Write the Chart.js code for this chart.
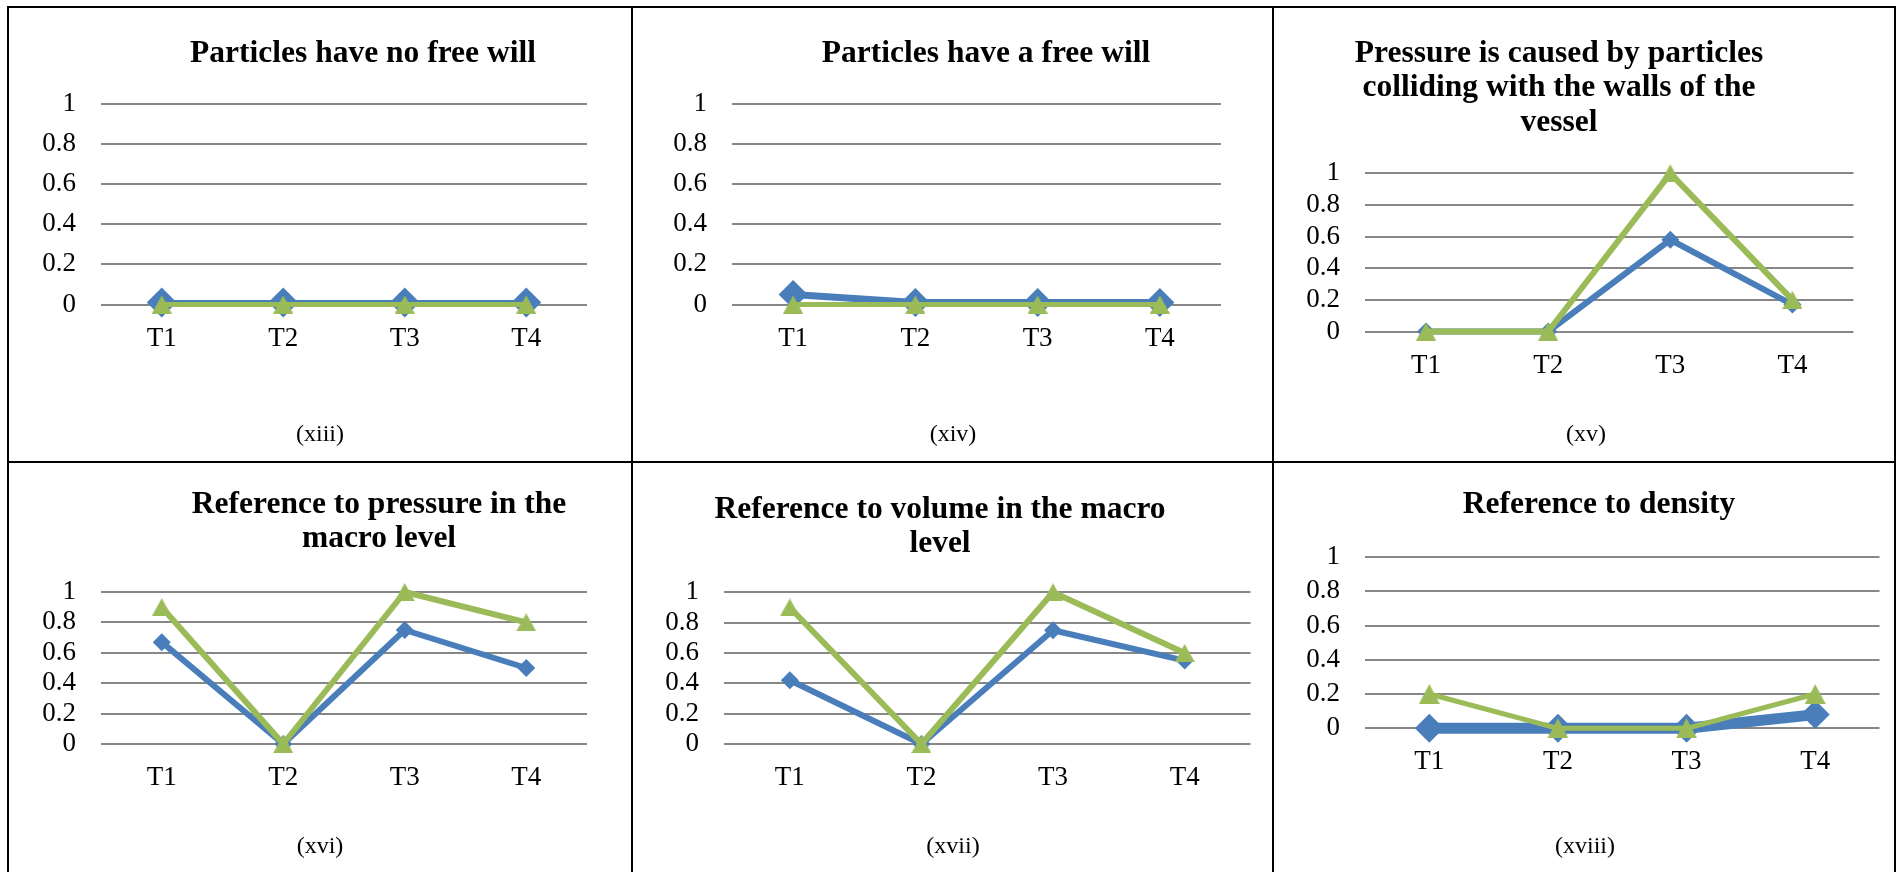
<!DOCTYPE html>
<html>
<head>
<meta charset="utf-8">
<script src="https://cdn.jsdelivr.net/npm/chart.js@4.4.0/dist/chart.umd.min.js"></script>
<style>
  html, body { margin: 0; padding: 0; background: #fff; }
  body { width: 1898px; height: 872px; position: relative; overflow: hidden; }
  .cell { position: absolute; }
  .rule { position: absolute; background: #000; }
</style>
</head>
<body>
<script>
// shared axes
const categories = ['T1', 'T2', 'T3', 'T4'];
const yTickValues = [0, 0.2, 0.4, 0.6, 0.8, 1];
const yTickLabels = ['0', '0.2', '0.4', '0.6', '0.8', '1'];

// values per panel (blue = diamonds, green = triangles)
const noFreeWillBlue = [0.01, 0.01, 0.01, 0.01];
const noFreeWillGreen = [0, 0, 0, 0];
const freeWillBlue = [0.05, 0.01, 0.01, 0.01];
const freeWillGreen = [0, 0, 0, 0];
const collidingBlue = [0, 0, 0.58, 0.17];
const collidingGreen = [0, 0, 1, 0.2];
const pressureBlue = [0.67, 0, 0.75, 0.5];
const pressureGreen = [0.9, 0, 1, 0.8];
const volumeBlue = [0.42, 0, 0.75, 0.55];
const volumeGreen = [0.9, 0, 1, 0.6];
const densityBlue = [0, 0, 0, 0.08];
const densityGreen = [0.2, 0, 0, 0.2];

const BLUE = '#4a7ebb';
const GREEN = '#9bbb59';
const GRID = '#878787';
const FONT = '"Liberation Serif", "Times New Roman", serif';

Chart.defaults.font.family = FONT;
Chart.defaults.color = '#000';

// table rules
[
  [7, 6, 1889, 2], [7, 461, 1889, 2],
  [7, 6, 2, 866], [631, 6, 2, 866], [1272, 6, 2, 866], [1894, 6, 2, 866]
].forEach(([x, y, w, h]) => {
  const d = document.createElement('div');
  d.className = 'rule';
  d.style.cssText = `left:${x}px;top:${y}px;width:${w}px;height:${h}px`;
  document.body.appendChild(d);
});

function triangleMarker(w, h, color) {
  const c = document.createElement('canvas');
  c.width = w; c.height = h;
  const g = c.getContext('2d');
  g.fillStyle = color;
  g.beginPath();
  g.moveTo(w / 2, 0);
  g.lineTo(w, h);
  g.lineTo(0, h);
  g.closePath();
  g.fill();
  return c;
}

// draws the chart title and the table caption
const panelText = {
  id: 'panelText',
  afterDraw(chart, args, opts) {
    const ctx = chart.ctx;
    ctx.save();
    ctx.fillStyle = '#000';
    ctx.textAlign = 'center';
    ctx.textBaseline = 'alphabetic';
    ctx.font = `bold 31.5px ${FONT}`;
    opts.title.forEach((line, i) => ctx.fillText(line, opts.titleX, opts.titleY[i]));
    ctx.font = `24px ${FONT}`;
    ctx.fillText(opts.caption, opts.capX, opts.capY);
    ctx.restore();
  }
};

const panels = [
  { title: ['Particles have no free will'], caption: '(xiii)', blue: noFreeWillBlue, green: noFreeWillGreen,
    cell: { x: 9, y: 8, w: 622, h: 453 }, plot: { l: 101, r: 587, t: 104, b: 304.5 },
    titleX: 363, titleY: [62], capX: 320, capY: 441, diamond: 15, tri: [20, 18], blueW: 5, greenW: 5, labelGap: 18 },
  { title: ['Particles have a free will'], caption: '(xiv)', blue: freeWillBlue, green: freeWillGreen,
    cell: { x: 633, y: 8, w: 639, h: 453 }, plot: { l: 732, r: 1221, t: 104, b: 304.5 },
    titleX: 986, titleY: [62], capX: 953, capY: 441, diamond: 14.5, tri: [20, 18], blueW: 7, greenW: 5, labelGap: 18 },
  { title: ['Pressure is caused by particles', 'colliding with the walls of the', 'vessel'], caption: '(xv)',
    blue: collidingBlue, green: collidingGreen,
    cell: { x: 1274, y: 8, w: 620, h: 453 }, plot: { l: 1365, r: 1853.5, t: 173.3, b: 331.5 },
    titleX: 1559, titleY: [61.5, 96, 130.5], capX: 1586, capY: 441, diamond: 9, tri: [20, 18], blueW: 6, greenW: 6, labelGap: 18 },
  { title: ['Reference to pressure in the', 'macro level'], caption: '(xvi)', blue: pressureBlue, green: pressureGreen,
    cell: { x: 9, y: 463, w: 622, h: 409 }, plot: { l: 101, r: 587, t: 592, b: 744 },
    titleX: 379, titleY: [512.5, 547], capX: 320, capY: 853, diamond: 9, tri: [20, 18], blueW: 6, greenW: 6, labelGap: 18 },
  { title: ['Reference to volume in the macro', 'level'], caption: '(xvii)', blue: volumeBlue, green: volumeGreen,
    cell: { x: 633, y: 463, w: 639, h: 409 }, plot: { l: 724, r: 1250.5, t: 592.3, b: 744 },
    titleX: 940, titleY: [517.5, 551.5], capX: 953, capY: 853, diamond: 9, tri: [20, 18], blueW: 6, greenW: 6, labelGap: 18 },
  { title: ['Reference to density'], caption: '(xviii)', blue: densityBlue, green: densityGreen,
    cell: { x: 1274, y: 463, w: 620, h: 409 }, plot: { l: 1365, r: 1881.5, t: 557, b: 728.3 },
    titleX: 1599, titleY: [512.5], capX: 1585, capY: 853, diamond: 14.5, tri: [21, 20], blueW: 11, greenW: 5, labelGap: 17.5 }
];

panels.forEach(p => {
  const wrap = document.createElement('div');
  wrap.className = 'cell';
  wrap.style.cssText = `left:${p.cell.x}px;top:${p.cell.y}px;width:${p.cell.w}px;height:${p.cell.h}px`;
  const canvas = document.createElement('canvas');
  wrap.appendChild(canvas);
  document.body.appendChild(wrap);

  const xAxisH = 60;
  const yAxisW = p.plot.l - p.cell.x;

  new Chart(canvas, {
    type: 'line',
    data: {
      labels: categories,
      datasets: [
        {
          label: 'Series 1',
          data: p.blue,
          order: 1,
          borderColor: BLUE,
          backgroundColor: BLUE,
          borderWidth: p.blueW,
          borderJoinStyle: 'round',
          pointStyle: 'rectRot',
          pointRadius: p.diamond,
          pointBorderWidth: 0,
          pointBackgroundColor: BLUE,
          clip: false
        },
        {
          label: 'Series 2',
          data: p.green,
          order: 0,
          borderColor: GREEN,
          backgroundColor: GREEN,
          borderWidth: p.greenW,
          borderJoinStyle: 'round',
          pointStyle: triangleMarker(p.tri[0], p.tri[1], GREEN),
          pointRadius: 10,
          pointBorderWidth: 0,
          clip: false
        }
      ]
    },
    options: {
      responsive: true,
      maintainAspectRatio: false,
      animation: false,
      events: [],
      layout: {
        padding: {
          left: 0,
          top: p.plot.t - p.cell.y,
          right: p.cell.x + p.cell.w - p.plot.r,
          bottom: p.cell.y + p.cell.h - p.plot.b - xAxisH
        }
      },
      plugins: {
        legend: { display: false },
        title: { display: false },
        tooltip: { enabled: false },
        panelText: { title: p.title, titleX: p.titleX - p.cell.x, titleY: p.titleY.map(v => v - p.cell.y),
          caption: p.caption, capX: p.capX - p.cell.x, capY: p.capY - p.cell.y }
      },
      scales: {
        x: {
          type: 'category',
          offset: true,
          grid: { display: false, drawTicks: false },
          border: { display: false },
          ticks: { font: { size: 27 }, padding: p.labelGap, maxRotation: 0, autoSkip: false },
          afterFit: s => { s.height = xAxisH; }
        },
        y: {
          min: 0,
          max: 1,
          grid: { color: GRID, lineWidth: 2, drawTicks: false },
          border: { display: false },
          ticks: { font: { size: 27 }, padding: 25, autoSkip: false,
            callback: (v, i) => yTickLabels[i] },
          afterBuildTicks: s => { s.ticks = yTickValues.map(v => ({ value: v })); },
          afterFit: s => { s.width = yAxisW; }
        }
      }
    },
    plugins: [panelText]
  });
});
</script>
</body>
</html>
